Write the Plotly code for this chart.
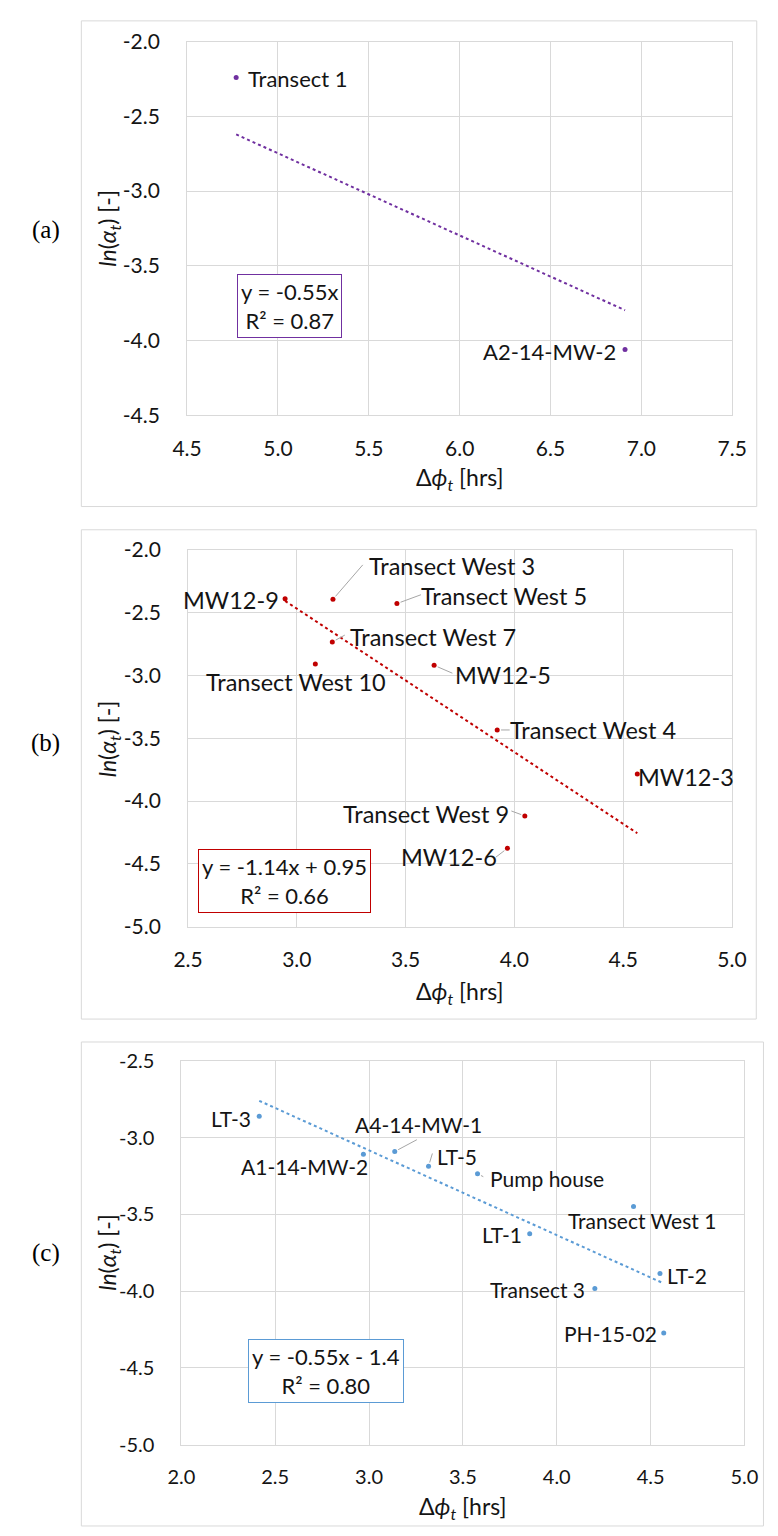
import numpy as np
import plotly.graph_objects as go

W, H = 778, 1536

# ---------------- data ----------------
# Panel (a)
a_names = ["Transect 1", "A2-14-MW-2"]
a_x = [4.77, 6.91]
a_y = [-2.24, -4.06]
a_eq = "y = -0.55x<br>R² = 0.87"
a_xticks = [4.5, 5.0, 5.5, 6.0, 6.5, 7.0, 7.5]
a_xticktext = ["4.5", "5.0", "5.5", "6.0", "6.5", "7.0", "7.5"]
a_yticks = [-2.0, -2.5, -3.0, -3.5, -4.0, -4.5]
a_yticktext = ["-2.0", "-2.5", "-3.0", "-3.5", "-4.0", "-4.5"]

# Panel (b)
b_names = ["MW12-9", "Transect West 3", "Transect West 5", "Transect West 7",
           "Transect West 10", "MW12-5", "Transect West 4", "MW12-3",
           "Transect West 9", "MW12-6"]
b_x = [2.946, 3.166, 3.46, 3.163, 3.085, 3.631, 3.921, 4.565, 4.048, 3.968]
b_y = [-2.387, -2.392, -2.426, -2.732, -2.907, -2.918, -3.433, -3.783, -4.118, -4.376]
b_eq = "y = -1.14x + 0.95<br>R² = 0.66"
b_xticks = [2.5, 3.0, 3.5, 4.0, 4.5, 5.0]
b_xticktext = ["2.5", "3.0", "3.5", "4.0", "4.5", "5.0"]
b_yticks = [-2.0, -2.5, -3.0, -3.5, -4.0, -4.5, -5.0]
b_yticktext = ["-2.0", "-2.5", "-3.0", "-3.5", "-4.0", "-4.5", "-5.0"]

# Panel (c)
c_names = ["LT-3", "A1-14-MW-2", "A4-14-MW-1", "LT-5", "Pump house",
           "Transect West 1", "LT-1", "LT-2", "Transect 3", "PH-15-02"]
c_x = [2.415, 2.97, 3.137, 3.317, 3.578, 4.409, 3.856, 4.55, 4.203, 4.57]
c_y = [-2.86, -3.107, -3.09, -3.186, -3.235, -3.449, -3.626, -3.885, -3.983, -4.272]
c_eq = "y = -0.55x - 1.4<br>R² = 0.80"
c_xticks = [2.0, 2.5, 3.0, 3.5, 4.0, 4.5, 5.0]
c_xticktext = ["2.0", "2.5", "3.0", "3.5", "4.0", "4.5", "5.0"]
c_yticks = [-2.5, -3.0, -3.5, -4.0, -4.5, -5.0]
c_yticktext = ["-2.5", "-3.0", "-3.5", "-4.0", "-4.5", "-5.0"]

# ---------------- styling / layout ----------------
PURPLE, RED, BLUE = "#7030A0", "#C00000", "#5B9BD5"
GRID = "#d9d9d9"
TXT = "#141414"
LEAD = "#a6a6a6"
FONT = "Lato"


def px(x):
    return x / W


def py(y):
    return 1 - y / H


# label offsets (pixels, text centre relative to point) and leader-line ends
a_lab = [(62, 1), (-76, 2)]
a_lead = [None, None]
b_lab = [(-54, 1), (119, -33), (107, -8), (101, -5), (-19, 18), (69, 10),
         (96, 0), (49, 3), (-99, -2), (-58, 9)]
b_lead = [None, (31, -35), (25, -9), (13, -7), None, (19, 8), (13, 0), None, (-14, -5), (-12, 9)]
c_lab = [(-28, 2), (-59, 12), (24, -27), (28, -10), (69, 5), (8, 14), (-28, 1),
         (27, 2), (-57, 1), (-53, 1)]
c_lead = [None, None, (23, -12), (4, -13), (6, 3), None, None, None, None, None]

panels = [
    dict(x=a_x, y=a_y, names=a_names, color=PURPLE, eq=a_eq, origin=True,
         xr=[4.5, 7.5], yr=[-4.5, -2.0], xt=a_xticks, xtt=a_xticktext,
         yt=a_yticks, ytt=a_yticktext, dom_x=(179, 746), dom_y=(28, 408),
         lab=a_lab, lead=a_lead, lsize=22, tsize=21, box=(285.3, 297.2),
         border=(69, 7, 771.5, 500.7), tag="(a)", tagy=220, ytitle_y=218, xtitle_y=472),
    dict(x=b_x, y=b_y, names=b_names, color=RED, eq=b_eq, origin=False,
         xr=[2.5, 5.0], yr=[-5.0, -2.0], xt=b_xticks, xtt=b_xticktext,
         yt=b_yticks, ytt=b_yticktext, dom_x=(180, 745.7), dom_y=(545, 927.7),
         lab=b_lab, lead=b_lead, lsize=23.5, tsize=21, box=(280.5, 881.5),
         border=(69, 524.3, 771, 1021.7), tag="(b)", tagy=741, ytitle_y=737, xtitle_y=995),
    dict(x=c_x, y=c_y, names=c_names, color=BLUE, eq=c_eq, origin=False,
         xr=[2.0, 5.0], yr=[-5.0, -2.5], xt=c_xticks, xtt=c_xticktext,
         yt=c_yticks, ytt=c_yticktext, dom_x=(173, 758.7), dom_y=(1064.3, 1454.3),
         lab=c_lab, lead=c_lead, lsize=21, tsize=20, box=(323.8, 1379.7),
         border=(69, 1045, 778.5, 1537), tag="(c)", tagy=1259, ytitle_y=1259, xtitle_y=1518),
]

fig = go.Figure()
annotations = []
shapes = []
layout = {}

for i, p in enumerate(panels, start=1):
    sfx = "" if i == 1 else str(i)
    xa, ya = "x" + sfx, "y" + sfx
    x = np.array(p["x"])
    y = np.array(p["y"])
    # pixels per data unit on this panel's axes
    ppx = (p["dom_x"][1] - p["dom_x"][0]) / (p["xr"][1] - p["xr"][0])
    ppy = (p["dom_y"][1] - p["dom_y"][0]) / (p["yr"][1] - p["yr"][0])

    # trendline computed from the data
    if p["origin"]:
        m = float(np.sum(x * y) / np.sum(x * x))
        b = 0.0
    else:
        m, b = np.polyfit(x, y, 1)
    xl = np.array([x.min(), x.max()])
    fig.add_trace(go.Scatter(x=xl, y=m * xl + b, mode="lines", xaxis=xa, yaxis=ya,
                             line=dict(color=p["color"], width=2, dash="dot"),
                             showlegend=False, hoverinfo="skip"))

    # leader lines (point -> label), built from point positions + pixel offsets
    lx, ly = [], []
    for xv, yv, ld in zip(p["x"], p["y"], p["lead"]):
        if ld is None:
            continue
        d = np.hypot(ld[0], ld[1])
        s = 4.0 / d
        lx += [xv + ld[0] * s / ppx, xv + ld[0] / ppx, None]
        ly += [yv - ld[1] * s / ppy, yv - ld[1] / ppy, None]
    if lx:
        fig.add_trace(go.Scatter(x=lx, y=ly, mode="lines", xaxis=xa, yaxis=ya,
                                 line=dict(color=LEAD, width=1),
                                 showlegend=False, hoverinfo="skip"))

    fig.add_trace(go.Scatter(x=x, y=y, mode="markers", xaxis=xa, yaxis=ya,
                             marker=dict(color=p["color"], size=5),
                             showlegend=False))

    layout["xaxis" + sfx] = dict(
        domain=[px(p["dom_x"][0]), px(p["dom_x"][1])], anchor=ya, range=p["xr"],
        tickvals=p["xt"], ticktext=p["xtt"], showgrid=True, gridcolor=GRID, gridwidth=1,
        showline=True, linecolor=GRID, linewidth=1, mirror=True, zeroline=False,
        ticks="", ticklabelstandoff=14, tickfont=dict(family=FONT, size=p["tsize"], color=TXT))
    layout["yaxis" + sfx] = dict(
        domain=[py(p["dom_y"][1]), py(p["dom_y"][0])], anchor=xa, range=p["yr"],
        tickvals=p["yt"], ticktext=p["ytt"], showgrid=True, gridcolor=GRID, gridwidth=1,
        showline=True, linecolor=GRID, linewidth=1, mirror=True, zeroline=False,
        ticks="", ticklabelstandoff=22, tickfont=dict(family=FONT, size=p["tsize"], color=TXT))

    # data labels
    for name, xv, yv, off in zip(p["names"], p["x"], p["y"], p["lab"]):
        annotations.append(dict(
            x=xv, y=yv, xref=xa, yref=ya, text=name, showarrow=True,
            axref="pixel", ayref="pixel", ax=off[0], ay=off[1],
            arrowcolor="rgba(0,0,0,0)", arrowwidth=0.1,
            font=dict(family=FONT, size=p["lsize"], color=TXT)))

    # equation box
    annotations.append(dict(
        x=px(p["box"][0]), y=py(p["box"][1]), xref="paper", yref="paper",
        text=p["eq"], showarrow=False, align="center", xanchor="center", yanchor="middle",
        bordercolor=p["color"], borderwidth=1, borderpad=3, bgcolor="white",
        font=dict(family=FONT, size=22, color=TXT)))

    # axis titles
    annotations.append(dict(
        x=px(97), y=py(p["ytitle_y"]), xref="paper", yref="paper", textangle=-90,
        text="<i>ln</i>(<i>α</i><sub><i>t</i></sub>) [-]", showarrow=False,
        xanchor="center", yanchor="middle", font=dict(family=FONT, size=23, color=TXT)))
    xc = (p["dom_x"][0] + p["dom_x"][1]) / 2
    annotations.append(dict(
        x=px(xc), y=py(p["xtitle_y"]), xref="paper", yref="paper",
        text="Δ<i>ϕ</i><sub><i>t</i></sub> [hrs]", showarrow=False,
        xanchor="center", yanchor="middle", font=dict(family=FONT, size=23, color=TXT)))

    # panel tag
    annotations.append(dict(
        x=px(32), y=py(p["tagy"]), xref="paper", yref="paper", text=p["tag"],
        showarrow=False, xanchor="center", yanchor="middle",
        font=dict(family="Liberation Serif", size=25, color="black")))

    # outer chart border
    bx0, by0, bx1, by1 = p["border"]
    shapes.append(dict(type="rect", xref="paper", yref="paper",
                       x0=px(bx0), x1=px(bx1), y0=py(by1), y1=py(by0),
                       line=dict(color=GRID, width=1), fillcolor="rgba(0,0,0,0)",
                       layer="below"))

fig.update_layout(
    width=W, height=H, margin=dict(l=0, r=0, t=0, b=0),
    paper_bgcolor="white", plot_bgcolor="white",
    annotations=annotations, shapes=shapes, showlegend=False,
    **layout)

fig.write_html("out.html")
